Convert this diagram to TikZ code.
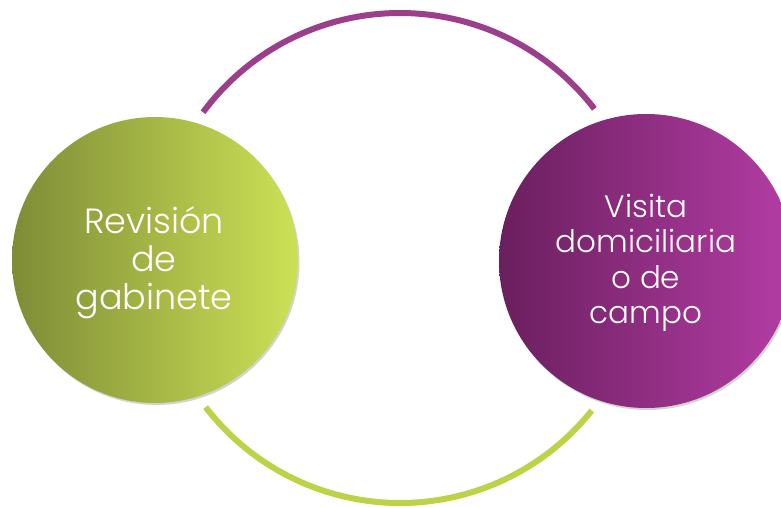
\documentclass[tikz,border=0pt]{standalone}
\usepackage{fontspec}
\setmainfont{Poppins}[UprightFont={* Light}]
\usepackage{tikz}
\usetikzlibrary{calc}
\usetikzlibrary{shadows}
\usetikzlibrary{positioning}
\definecolor{oliveL}{HTML}{7E8C36}
\definecolor{oliveR}{HTML}{CDE156}
\definecolor{plumL}{HTML}{6A1F5E}
\definecolor{plumR}{HTML}{B43DA5}
\definecolor{plumArc}{HTML}{9B3F8D}
\definecolor{oliveArc}{HTML}{BDD247}
\tikzset{
  blob/.style = {circle, draw=none, inner sep=0, minimum size=#1,
    drop shadow={opacity=.35, shadow xshift=1.5pt, shadow yshift=-2pt}},
  label txt/.style = {align=center, text=white, font=\fontsize{35}{38}\selectfont},
  ring/.style = {line width=6pt, line cap=butt}
}

\begin{document}
\begin{tikzpicture}[x=1pt, y=1pt]
\useasboundingbox (0,0) rectangle (781,506);
%hub of the ring
\coordinate (hub) at (400, 248);
\draw [ring, draw = plumArc] ([shift={(143.5:245)}]hub) arc (143.5:37.5:245);
\draw [ring, draw = oliveArc] ([shift={(217.5:245)}]hub) arc (217.5:321.5:245);
\node [blob=286pt, left color=oliveL, right color=oliveR] (G) at (155, 246) {};
\node [blob=294pt, left color=plumL, right color=plumR] (V) at (646, 245) {};
\node [label txt] (Gt) at ([xshift=-1pt, yshift=-3pt]G) {Revisión\\de\\gabinete};
\node [label txt, font=\fontsize{31}{35.5}\selectfont] (Vt) at ([yshift=-2pt]V) {Visita\\domiciliaria\\o de\\campo};
\end{tikzpicture}
\end{document}
